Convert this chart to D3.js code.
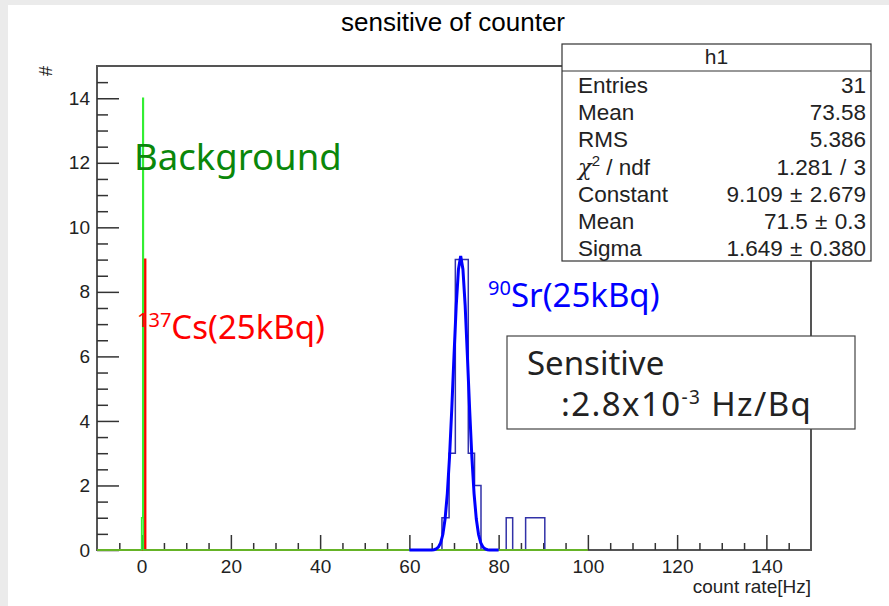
<!DOCTYPE html>
<html>
<head>
<meta charset="utf-8">
<script src="https://cdn.jsdelivr.net/npm/d3@7"></script>
<style>
  body { margin: 0; background: #ebebeb; }
  svg { display: block; }
</style>
</head>
<body>
<div id="chart"></div>
<script>
// ---- data ----
var xMajor = [0, 20, 40, 60, 80, 100, 120, 140];
var yMajor = [0, 2, 4, 6, 8, 10, 12, 14];

// background run (green), bin edges + counts
var bgEdges = [-10, 0, 0.25, 0.4, 100];
var bgCounts = [0, 1, 14, 0];

// 137Cs run (red)
var csEdges = [-10, 0.6, 0.85, 100];
var csCounts = [0, 9, 0];

// 90Sr run (thin blue histogram)
var srEdges = [60, 67.3, 68.9, 70.3, 71.8, 73.2, 74.6, 76.05, 81.7, 83.15, 86.05, 90.35, 100];
var srCounts = [0, 1, 3, 9, 9, 3, 2, 0, 1, 0, 1, 0];

// gaus fit as drawn (thick blue)
var fitX = [60, 62, 64, 65, 65.5, 66, 66.5, 67, 67.5, 68, 68.5, 69, 69.5, 70, 70.5, 71, 71.5,
            72, 72.5, 73, 73.5, 74, 74.5, 75, 75.5, 76, 76.5, 77, 77.5, 78, 80];
var fitY = [0, 0, 0, 0, 0.01, 0.035, 0.09, 0.22, 0.48, 0.96, 1.74, 2.89, 4.37, 6.02, 7.58, 8.70, 9.11,
            8.70, 7.58, 6.02, 4.37, 2.89, 1.74, 0.96, 0.48, 0.22, 0.09, 0.035, 0.01, 0, 0];

var statLabels = ["Entries", "Mean", "RMS", "chi", "Constant", "Mean", "Sigma"];
var statValues = ["31", "73.58", "5.386", "1.281 / 3", "9.109 \u00b1 2.679", "71.5 \u00b1 0.3", "1.649 \u00b1 0.380"];

var W = 889, H = 606;
var svg = d3.select("#chart").append("svg")
    .attr("width", W)
    .attr("height", H);

// slide background: grey edge and white canvas
svg.append("rect").attr("width", W).attr("height", H).attr("fill", "#ebebeb");
svg.append("rect").attr("x", 8).attr("y", 5).attr("width", W - 8).attr("height", H - 5).attr("fill", "#fff");

var frame = { l: 97, r: 811, t: 66, b: 550 };
var x = d3.scaleLinear().domain([-10, 150]).range([frame.l, frame.r]);
var y = d3.scaleLinear().domain([0, 15]).range([frame.b, frame.t]);

var font = "'Liberation Sans', Arial, sans-serif";
var jfont = "'Noto Sans', 'Noto Sans CJK JP', sans-serif";

// title
svg.append("text")
    .attr("x", 453).attr("y", 31)
    .attr("text-anchor", "middle")
    .style("font-family", font).style("font-size", "26px")
    .text("sensitive of counter");

// frame
svg.append("rect")
    .attr("x", frame.l).attr("y", frame.t)
    .attr("width", frame.r - frame.l).attr("height", frame.b - frame.t)
    .attr("fill", "none").attr("stroke", "#555").attr("stroke-width", 2);

// ticks, ROOT style (pointing inside)
var minorX = d3.range(-5, 150, 5).filter(function (v) { return v % 20 !== 0; });
var minorY = d3.range(0.5, 15, 0.5).filter(function (v) { return v % 2 !== 0; });

var xAxis = svg.append("g").attr("transform", "translate(0," + frame.b + ")")
    .call(d3.axisBottom(x).tickValues(xMajor).tickSize(-15).tickFormat(d3.format("d")));
svg.append("g").attr("transform", "translate(0," + frame.b + ")")
    .call(d3.axisBottom(x).tickValues(minorX).tickSize(-7).tickFormat(""));
var yAxis = svg.append("g").attr("transform", "translate(" + frame.l + ",0)")
    .call(d3.axisLeft(y).tickValues(yMajor).tickSize(-22).tickFormat(d3.format("d")));
svg.append("g").attr("transform", "translate(" + frame.l + ",0)")
    .call(d3.axisLeft(y).tickValues(minorY).tickSize(-11).tickFormat(""));

svg.selectAll(".domain").remove();
svg.selectAll(".tick line").attr("stroke", "#333").attr("stroke-width", 1.5);
svg.selectAll(".tick text")
    .style("font-family", font).style("font-size", "19px").attr("fill", "#222");
yAxis.selectAll(".tick text").attr("x", -7);
xAxis.selectAll(".tick text").attr("y", 10);

// axis titles
svg.append("text")
    .attr("x", frame.r).attr("y", 593)
    .attr("text-anchor", "end")
    .style("font-family", font).style("font-size", "19px").attr("fill", "#222")
    .text("count rate[Hz]");
svg.append("text")
    .attr("transform", "translate(52,66) rotate(-90)")
    .attr("text-anchor", "end")
    .style("font-family", font).style("font-size", "18px").attr("fill", "#222")
    .text("#");

// histogram outline from edges + counts
var histPoints = function (edges, counts) {
    var pts = [[edges[0], 0]];
    for (var i = 0; i < counts.length; i++) {
        pts.push([edges[i], counts[i]]);
        pts.push([edges[i + 1], counts[i]]);
    }
    pts.push([edges[edges.length - 1], 0]);
    return pts;
};
var line = d3.line()
    .x(function (d) { return x(d[0]); })
    .y(function (d) { return y(d[1]); });

svg.append("path")
    .attr("d", line(histPoints(srEdges, srCounts)))
    .attr("fill", "none").attr("stroke", "#3232a8").attr("stroke-width", 1.5);
svg.append("path")
    .attr("d", line(histPoints(csEdges, csCounts)))
    .attr("fill", "none").attr("stroke", "#ff0000").attr("stroke-width", 2);
svg.append("path")
    .attr("d", line(histPoints(bgEdges, bgCounts)))
    .attr("fill", "none").attr("stroke", "#33ee33").attr("stroke-width", 1.5);

// fit curve
svg.append("path")
    .datum(fitX.map(function (v, i) { return [v, fitY[i]]; }))
    .attr("d", line)
    .attr("fill", "none").attr("stroke", "#0000ff").attr("stroke-width", 3);

// stats box
var sb = { x: 562, y: 44, w: 309, h: 217 };
svg.append("rect")
    .attr("x", sb.x).attr("y", sb.y).attr("width", sb.w).attr("height", sb.h)
    .attr("fill", "#fff").attr("stroke", "#333").attr("stroke-width", 1.2);
svg.append("line")
    .attr("x1", sb.x).attr("x2", sb.x + sb.w).attr("y1", 71).attr("y2", 71)
    .attr("stroke", "#333").attr("stroke-width", 1.2);
svg.append("text")
    .attr("x", sb.x + sb.w / 2).attr("y", 64)
    .attr("text-anchor", "middle")
    .style("font-family", font).style("font-size", "21px").attr("fill", "#222")
    .text("h1");

statLabels.forEach(function (lab, i) {
    var ty = 93 + i * 27.2;
    var t = svg.append("text")
        .attr("x", 578).attr("y", ty)
        .style("font-family", font).style("font-size", "22.5px").attr("fill", "#222");
    if (lab === "chi") {
        t.append("tspan").style("font-family", "'DejaVu Serif', serif").style("font-style", "italic").text("\u03c7");
        t.append("tspan").attr("dy", -9).style("font-size", "15px").text("2");
        t.append("tspan").attr("dy", 9).text(" / ndf");
    } else {
        t.text(lab);
    }
    svg.append("text")
        .attr("x", 866).attr("y", ty)
        .attr("text-anchor", "end")
        .style("font-family", font).style("font-size", "22.5px").attr("fill", "#222")
        .style("word-spacing", "1px")
        .text(statValues[i]);
});

// labels on the plot
svg.append("text")
    .attr("x", 134).attr("y", 170)
    .style("font-family", jfont).style("font-size", "36.5px").attr("fill", "#0a870a")
    .text("Background");

var cs = svg.append("text")
    .attr("x", 137).attr("y", 339)
    .style("font-family", jfont).style("font-size", "33px").attr("fill", "#ff0000");
cs.append("tspan").style("font-size", "20px").attr("dy", -12).text("137");
cs.append("tspan").attr("dy", 12).text("Cs(25kBq)");

var sr = svg.append("text")
    .attr("x", 488).attr("y", 307)
    .style("font-family", jfont).style("font-size", "33px").attr("fill", "#0000ff");
sr.append("tspan").style("font-size", "20px").attr("dy", -12).text("90");
sr.append("tspan").attr("dy", 12).text("Sr(25kBq)");

// sensitivity box
svg.append("rect")
    .attr("x", 507).attr("y", 336).attr("width", 348).attr("height", 93)
    .attr("fill", "#fff").attr("stroke", "#444").attr("stroke-width", 1.2);
svg.append("text")
    .attr("x", 527).attr("y", 375)
    .style("font-family", jfont).style("font-size", "33px").attr("fill", "#222")
    .text("Sensitive");
var sens = svg.append("text")
    .attr("x", 561).attr("y", 416)
    .style("font-family", jfont).style("font-size", "33px").attr("fill", "#222")
    .style("letter-spacing", "1.4px");
sens.append("tspan").text(":2.8x10");
sens.append("tspan").style("font-size", "19px").attr("dy", -12).text("-3");
sens.append("tspan").attr("dy", 12).text(" Hz/Bq");
</script>
</body>
</html>
